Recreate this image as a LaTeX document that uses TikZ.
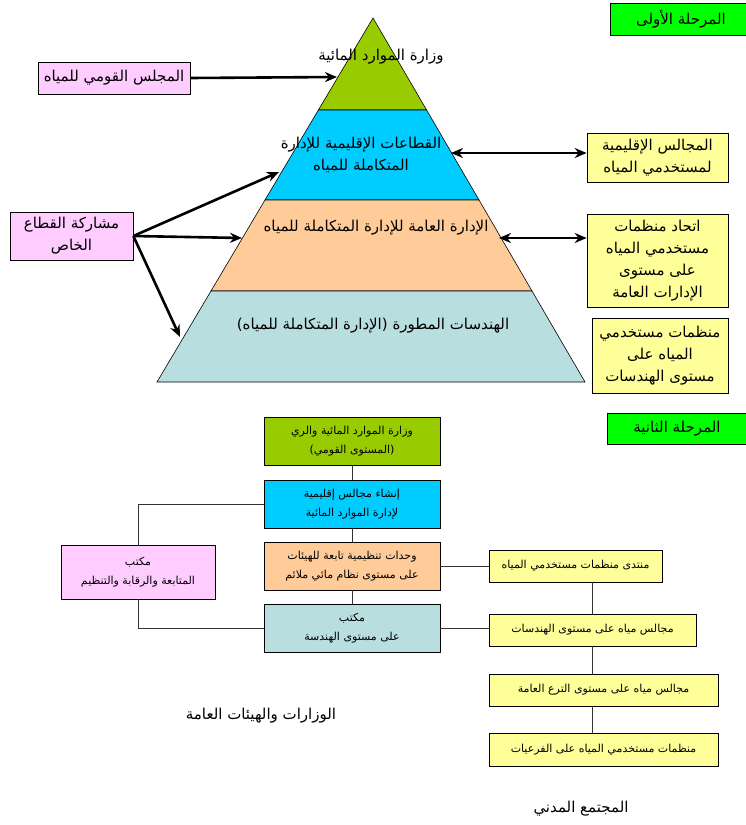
\documentclass[tikz,border=0pt]{standalone}
\usepackage{fontspec}
\newfontfamily\arabicfont[Script=Arabic]{DejaVu Sans}
\TeXXeTstate=1
\usepackage{xcolor}
\usetikzlibrary{positioning,arrows.meta}
\newcommand{\artext}[1]{\beginR #1\endR}
\definecolor{levelgreen}{HTML}{99CC00}
\definecolor{levelcyan}{HTML}{00CCFF}
\definecolor{levelorange}{HTML}{FFCC99}
\definecolor{levelblue}{HTML}{B9DEE0}
\definecolor{boxpink}{HTML}{FFCCFF}
\definecolor{boxyellow}{HTML}{FFFF99}
\definecolor{phasegreen}{HTML}{00FF00}

\begin{document}
\begin{tikzpicture}[x=1pt,y=-1pt]
	\tikzset{box/.style={draw=black,line width=0.7pt,align=center,inner sep=1pt},
		bigtext/.style={font=\arabicfont\fontsize{15}{22}\selectfont},
		smalltext/.style={font=\arabicfont\fontsize{11}{19}\selectfont},
		pinkbox/.style={box,bigtext,fill=boxpink},
		yellowbox/.style={box,bigtext,fill=boxyellow},
		phasebox/.style={box,bigtext,fill=phasegreen},
		lowbox/.style={box,smalltext,minimum width=176,minimum height=48},
		sidebox/.style={box,smalltext,fill=boxyellow,minimum height=32},
		bigarrow/.style={line width=2.6pt,-{Stealth[length=12pt,width=10pt]}},
		twoarrow/.style={line width=2.6pt,{Stealth[length=12pt,width=10pt]}-{Stealth[length=12pt,width=10pt]}},
		link/.style={draw=black!80,line width=0.8pt}}
	\useasboundingbox (0,0) rectangle (745,825);
	% first phase: the pyramid
	\filldraw[fill=levelgreen,line width=0.6pt] (373,18) -- (318.4,110) -- (426.6,110) -- cycle;
	\filldraw[fill=levelcyan,line width=0.6pt] (318.4,110) -- (265,200) -- (479,200) -- (426.6,110) -- cycle;
	\filldraw[fill=levelorange,line width=0.6pt] (265,200) -- (211,291) -- (532,291) -- (479,200) -- cycle;
	\filldraw[fill=levelblue,line width=0.6pt] (211,291) -- (157,382) -- (585,382) -- (532,291) -- cycle;
	\node[bigtext] (ministry) at (381,57) {\artext{وزارة الموارد المائية}};
	\node[bigtext,align=center] (sectors) at (361,155) {\artext{القطاعات الإقليمية للإدارة}\\\artext{المتكاملة للمياه}};
	\node[bigtext] (general) at (376,228) {\artext{الإدارة العامة للإدارة المتكاملة للمياه}};
	\node[bigtext] (districts) at (373,326) {\artext{الهندسات المطورة (الإدارة المتكاملة للمياه)}};
	\coordinate (tipcouncil) at (337,77);
	\coordinate (tipsectors) at (279,172);
	\coordinate (tipgeneral) at (242,238);
	\coordinate (tipdistricts) at (180,337);
	\coordinate (endsectors) at (451,153);
	\coordinate (endgeneral) at (499,238);

	\node[phasebox,minimum width=142,minimum height=32] (phaseone) at (681,19) {\artext{المرحلة الأولى}};
	\node[pinkbox,minimum width=152,minimum height=32] (council) at (114,78) {\artext{المجلس القومي للمياه}};
	\node[pinkbox,minimum width=123,minimum height=48] (private) at (71.5,236) {\artext{مشاركة القطاع}\\\artext{الخاص}};
	\node[yellowbox,minimum width=141,minimum height=49] (regional) at (657.5,157.5) {\artext{المجالس الإقليمية}\\\artext{لمستخدمي المياه}};
	\node[yellowbox,minimum width=141,minimum height=93] (union) at (657.5,260.5) {\artext{اتحاد منظمات}\\\artext{مستخدمي المياه}\\\artext{على مستوى}\\\artext{الإدارات العامة}};
	\node[yellowbox,minimum width=136,minimum height=75] (users) at (660,355.5) {\artext{منظمات مستخدمي}\\\artext{المياه على}\\\artext{مستوى الهندسات}};

	\draw[bigarrow] (council.east) -- (tipcouncil);
	\draw[bigarrow] (private.east) -- (tipsectors);
	\draw[bigarrow] (private.east) -- (tipgeneral);
	\draw[bigarrow] (private.east) -- (tipdistricts);
	\draw[twoarrow] (endsectors) -- (endsectors -| regional.west);
	\draw[twoarrow] (endgeneral) -- (endgeneral -| union.west);

	% second phase
	\node[phasebox,minimum width=140,minimum height=31] (phasetwo) at (677,428.5) {\artext{المرحلة الثانية}};
	\node[lowbox,fill=levelgreen] (nation) at (352,441.5) {\artext{وزارة الموارد المائية والري}\\\artext{(المستوى القومي)}};
	\node[lowbox,fill=levelcyan] (councils) at (352,504) {\artext{إنشاء مجالس إقليمية}\\\artext{لإدارة الموارد المائية}};
	\node[lowbox,fill=levelorange] (units) at (352,566) {\artext{وحدات تنظيمية تابعة للهيئات}\\\artext{على مستوى نظام مائي ملائم}};
	\node[lowbox,fill=levelblue] (office) at (352,628.5) {\artext{مكتب}\\\artext{على مستوى الهندسة}};
	\node[box,smalltext,fill=boxpink,minimum width=154,minimum height=54] (monitor) at (138,572) {\artext{مكتب}\\\artext{المتابعة والرقابة والتنظيم}};
	\node[sidebox,minimum width=173] (forum) at (575.5,566) {\artext{منتدى منظمات مستخدمي المياه}};
	\node[sidebox,minimum width=207] (dcouncil) at (592.5,630) {\artext{مجالس مياه على مستوى الهندسات}};
	\node[sidebox,minimum width=229] (ccouncil) at (603.5,690) {\artext{مجالس مياه على مستوى الترع العامة}};
	\node[sidebox,minimum width=229,minimum height=33] (bwuo) at (603.5,749.5) {\artext{منظمات مستخدمي المياه على الفرعيات}};

	\draw[link] (nation) -- (councils);
	\draw[link] (councils) -- (units);
	\draw[link] (units) -- (office);
	\draw[link] (monitor.north) |- (councils.west);
	\draw[link] (monitor.south) |- (office.west);
	\draw[link] (units.east) -- (units.east -| forum.west);
	\draw[link] (office.east) -- (office.east -| dcouncil.west);
	\draw[link] (dcouncil.north |- forum.south) -- (dcouncil.north);
	\draw[link] (dcouncil.south) -- (dcouncil.south |- ccouncil.north);
	\draw[link] (dcouncil.south |- ccouncil.south) -- (dcouncil.south |- bwuo.north);

	\node[bigtext] (public) at (261,716) {\artext{الوزارات والهيئات العامة}};
	\node[bigtext] (civil) at (581,809) {\artext{المجتمع المدني}};
\end{tikzpicture}
\end{document}
